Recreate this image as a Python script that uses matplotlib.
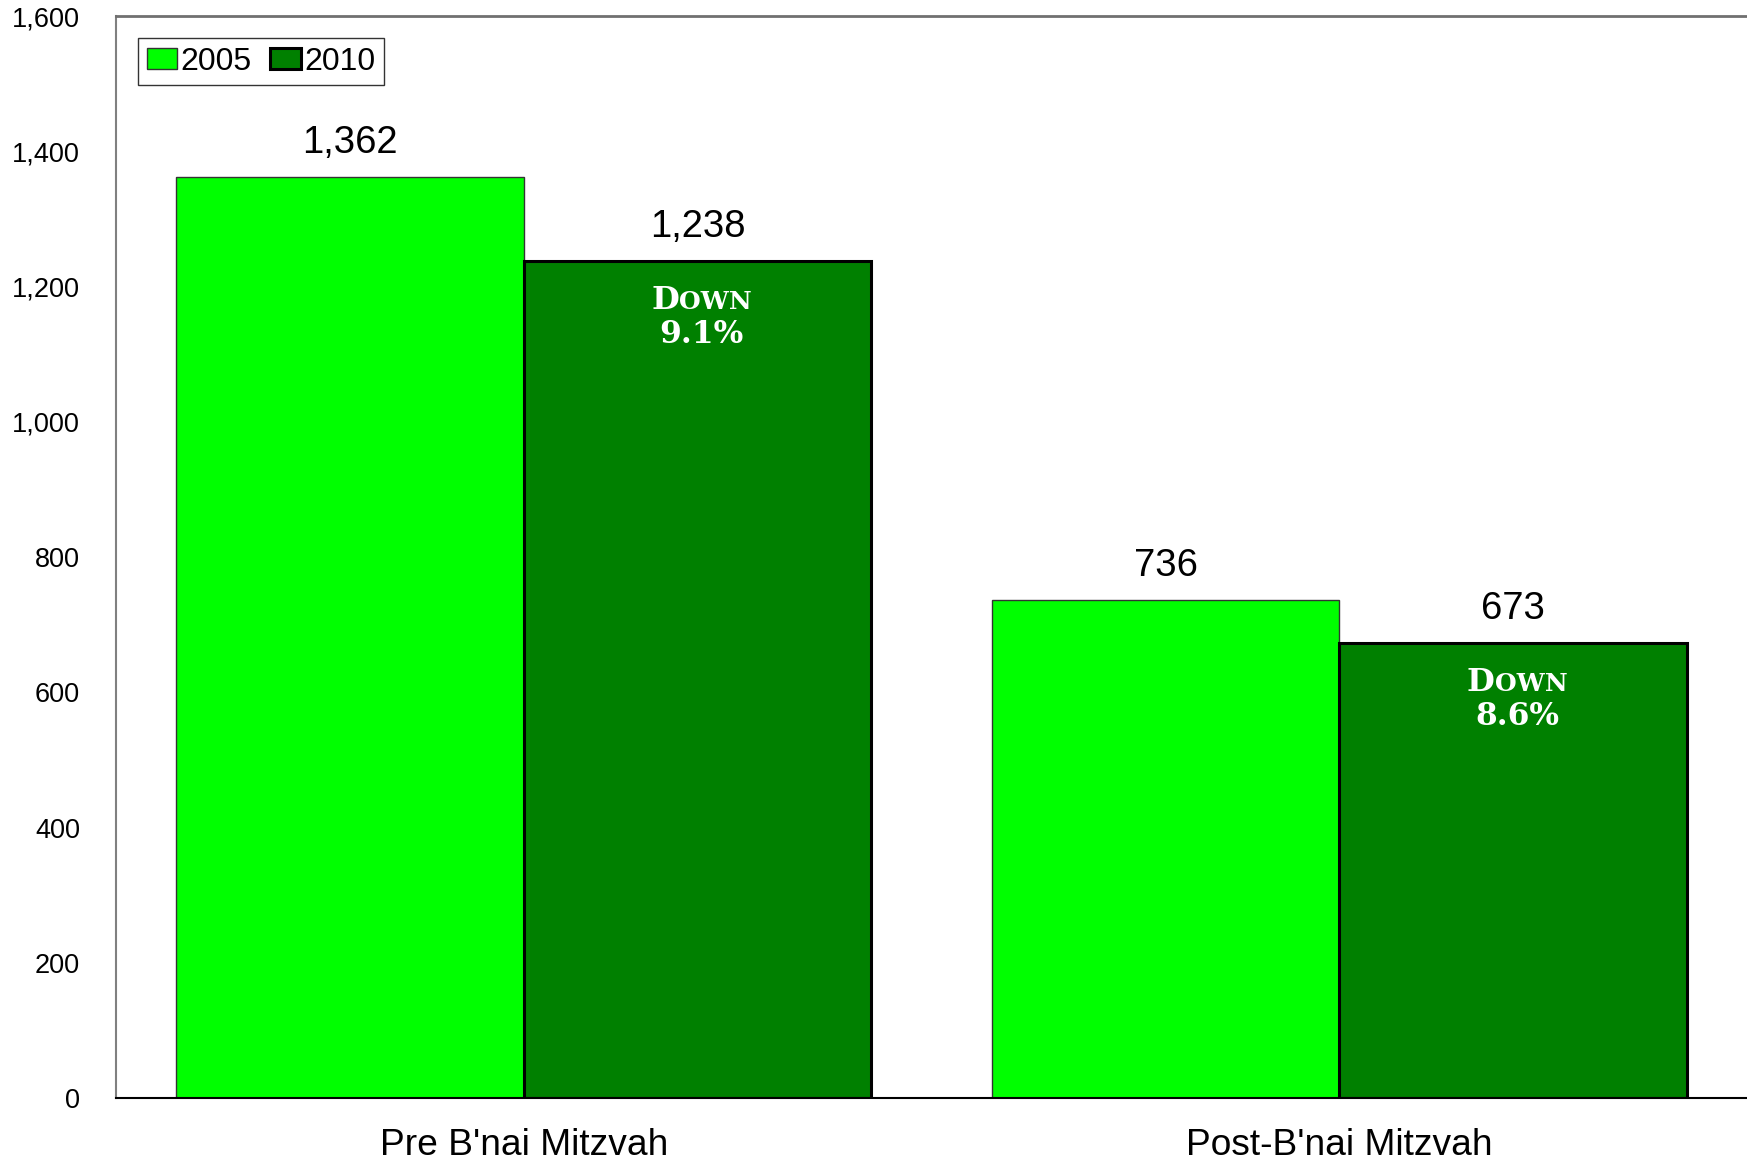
import matplotlib
matplotlib.use("Agg")
import matplotlib.pyplot as plt
import numpy as np
from matplotlib.offsetbox import TextArea, HPacker, VPacker, AnnotationBbox

categories = ["Pre B'nai Mitzvah", "Post-B'nai Mitzvah"]
years = ["2005", "2010"]
values_2005 = [1362, 736]
values_2010 = [1238, 673]
change_labels = ["9.1%", "8.6%"]
yticks = [0, 200, 400, 600, 800, 1000, 1200, 1400, 1600]

plt.rcParams['font.family'] = ['Liberation Sans', 'DejaVu Sans']

fig = plt.figure(figsize=(17.47, 11.65), dpi=100)
ax = fig.add_axes([116/1747, 1-1098/1165, 1-116/1747, (1098-16)/1165])

x = np.arange(len(categories))
w = 0.426
b1 = ax.bar(x - w/2, values_2005, w, color='#00FF00', edgecolor='#333333', linewidth=1.0, label=years[0])
b2 = ax.bar(x + w/2, values_2010, w, color='#008000', edgecolor='#000000', linewidth=2.2, label=years[1])

ax.set_xlim(-0.5, 1.5)
ax.set_ylim(0, 1600)
ax.set_yticks(yticks)
ax.set_yticklabels([f"{v:,}" for v in yticks], fontsize=19.5)
ax.set_xticks(x)
ax.set_xticklabels(categories, fontsize=26.7)
ax.tick_params(axis='y', length=0, pad=26)
ax.tick_params(axis='x', length=0, pad=21.5)

ax.spines['right'].set_visible(False)
ax.spines['left'].set_color('#808080')
ax.spines['left'].set_linewidth(1.5)
ax.spines['top'].set_color('#707070')
ax.spines['top'].set_linewidth(2.0)
ax.spines['bottom'].set_color('#000000')
ax.spines['bottom'].set_linewidth(1.5)

for xi, v in zip(x - w/2, values_2005):
    ax.annotate(f"{v:,}", (xi, v), xytext=(0, 34*0.72), textcoords='offset points',
                ha='center', va='center', fontsize=27.5)
for xi, v in zip(x + w/2, values_2010):
    ax.annotate(f"{v:,}", (xi, v), xytext=(0, 34*0.72), textcoords='offset points',
                ha='center', va='center', fontsize=27.5)

fam = 'DejaVu Serif'
for xi, v, lab in zip(x + w/2, values_2010, change_labels):
    d = TextArea("D", textprops=dict(color='white', fontsize=23, family=fam, weight='bold'))
    own = TextArea("OWN", textprops=dict(color='white', fontsize=18, family=fam, weight='bold'))
    row1 = HPacker(children=[d, own], align='baseline', pad=0, sep=0)
    row2 = TextArea(lab, textprops=dict(color='white', fontsize=22.5, family=fam, weight='bold'))
    box = VPacker(children=[row1, row2], align='center', pad=0, sep=2)
    ab = AnnotationBbox(box, (xi, v), xybox=(4*0.72, -57*0.72), boxcoords='offset points',
                        frameon=False, box_alignment=(0.5, 0.5))
    ax.add_artist(ab)

leg = ax.legend(loc='upper left', bbox_to_anchor=(138/1747, 1-38/1165), bbox_transform=fig.transFigure,
                borderaxespad=0, ncol=2, fontsize=23, frameon=True, fancybox=False, shadow=False,
                handlelength=0.95, handleheight=0.65, handletextpad=0.1, columnspacing=0.6,
                borderpad=0.27)
leg.get_frame().set_edgecolor('#000000')
leg.get_frame().set_linewidth(1.0)

fig.savefig("out.png", dpi=100)
